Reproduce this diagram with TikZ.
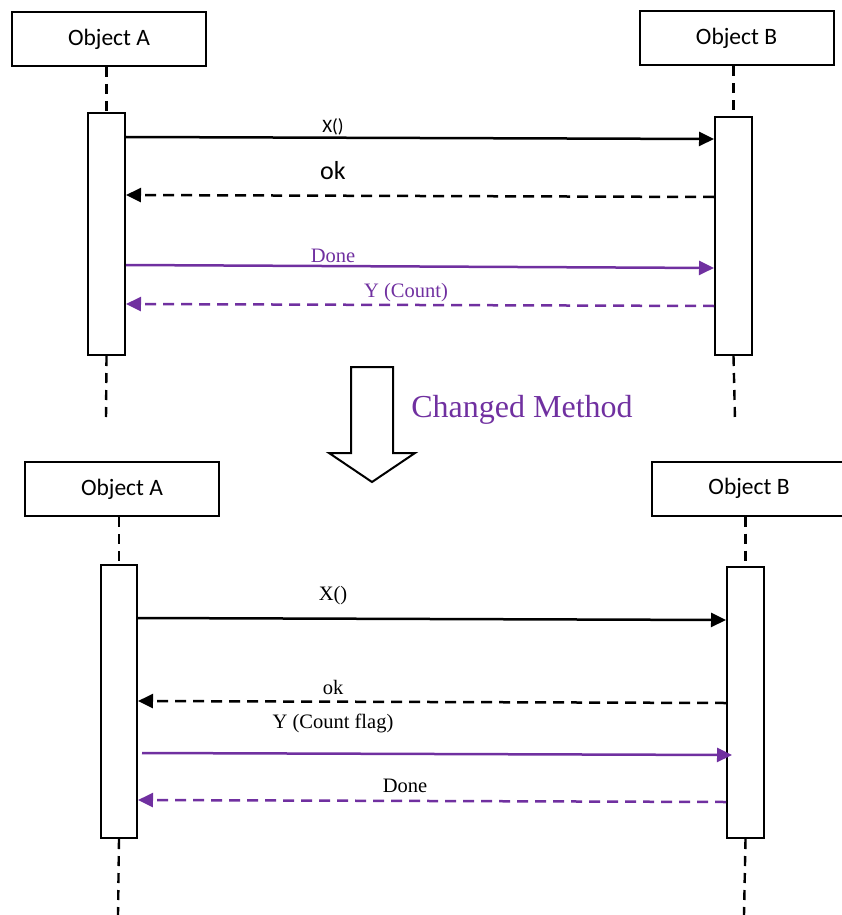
\documentclass[tikz,border=0pt]{standalone}
\usepackage{fontspec}
\setmainfont{Liberation Serif}
\newfontfamily\carl{Carlito}
\usetikzlibrary{arrows.meta,calc}
\definecolor{vio}{RGB}{112,48,160}
\begin{document}
\begin{tikzpicture}[x=1pt,y=-1pt,
  objbox/.style={draw,line width=2pt,minimum width=194pt,minimum height=54pt,inner sep=0,
    font=\carl\fontsize{23.5}{27}\selectfont},
  actbar/.style={draw,line width=2pt,minimum width=37pt,inner sep=0,fill=white},
  life/.style={line width=2.4pt,dash pattern=on 10pt off 7pt},
  msg/.style={line width=2.5pt,-{Triangle[length=15pt,width=14pt]}},
  ret/.style={msg,dash pattern=on 11pt off 7pt},
  lbl/.style={inner sep=0,font=\fontsize{20.5}{24}\selectfont},
  clbl/.style={inner sep=0,font=\carl\fontsize{19}{23}\selectfont},
]
\useasboundingbox (0,0) rectangle (841,915);

% ---------- top diagram ----------
\node[objbox] (oa1) at (109,39) {Object A};
\node[objbox] (ob1) at (736.5,38.5) {Object B};
\node[actbar,minimum height=242pt] (a1) at (106.5,234) {};
\node[actbar,minimum height=238pt] (b1) at (733.5,236) {};
\coordinate (a1end) at (106,420);
\coordinate (b1end) at (735,420);
\draw[life] (a1.north |- oa1.south) -- (a1.north);
\draw[life] (b1.north |- ob1.south) -- (b1.north);
\draw[life] (a1.south) -- (a1end);
\draw[life] (b1.south) -- (b1end);

\draw[msg] (a1.east |- 0,137) -- (b1.west |- 0,139);
\node[clbl] (lx1) at (333,127) {X()};
\draw[ret] (b1.west |- 0,197) -- (a1.east |- 0,195);
\node[clbl,font=\carl\fontsize{26}{30}\selectfont] (lok1) at (333,171) {ok};
\draw[msg,vio] (a1.east |- 0,265) -- (b1.west |- 0,268);
\node[lbl,vio] (ld1) at (333,256) {Done};
\draw[ret,vio] (b1.west |- 0,306) -- (a1.east |- 0,304);
\node[lbl,vio] (ly1) at (406,293) {Y (Count)};

% ---------- block arrow ----------
\draw[line width=2pt,fill=white,line join=miter]
  (351,367) -- (393,367) -- (393,453) -- (415,453) -- (372,482) -- (329,453) -- (351,453) -- cycle;
\node[inner sep=0,text=vio,font=\fontsize{32}{38}\selectfont] (chg) at (522,410) {Changed Method};

% ---------- bottom diagram ----------
\node[objbox] (oa2) at (122,489) {Object A};
\node[objbox] (ob2) at (749,488.5) {Object B};
\node[actbar,minimum width=36pt,minimum height=273pt] (a2) at (119,701.5) {};
\node[actbar,minimum height=271pt] (b2) at (745.5,702.5) {};
\coordinate (a2end) at (118,915);
\coordinate (b2end) at (744,915);
\draw[life] (a2.north |- oa2.south) -- (a2.north);
\draw[life] (b2.north |- ob2.south) -- (b2.north);
\draw[life] (a2.south) -- (a2end);
\draw[life] (b2.south) -- (b2end);

\draw[msg] (a2.east |- 0,618) -- (b2.west |- 0,620);
\node[lbl] (lx2) at (333,596) {X()};
\draw[ret] (b2.west |- 0,703) -- (a2.east |- 0,701);
\node[lbl] (lok2) at (333,687) {ok};
\draw[msg,vio] ($(a2.east |- 0,753)+(4,0)$) -- ($(b2.west |- 0,755)+(6,0)$);
\node[lbl] (ly2) at (333,723) {Y (Count flag)};
\draw[ret,vio] (b2.west |- 0,802) -- (a2.east |- 0,800);
\node[lbl] (ld2) at (405,786) {Done};
\end{tikzpicture}
\end{document}
